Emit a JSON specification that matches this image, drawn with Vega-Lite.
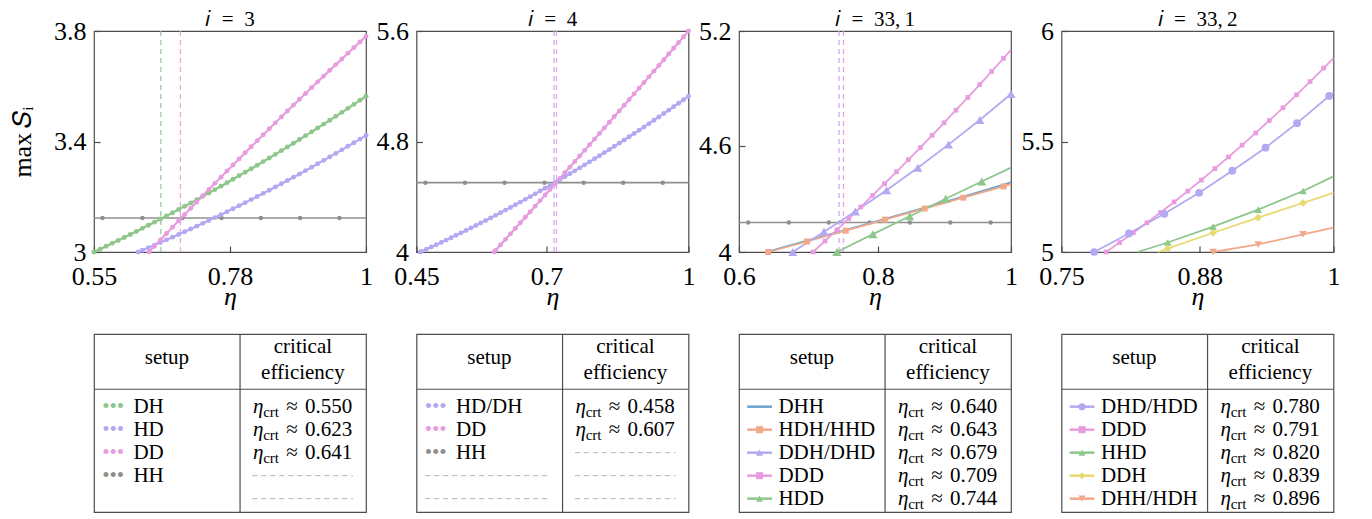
{
  "$schema": "https://vega.github.io/schema/vega-lite/v6.json",
  "padding": {"left": 8, "top": 8, "right": 0, "bottom": 0},
  "background": "white",
  "bounds": "flush",
  "columns": 4,
  "spacing": {"row": 82, "column": 50.5},
  "config": {
    "view": {"stroke": "#4d4d4d", "strokeWidth": 1.2},
    "axis": {"grid": false, "domain": false, "ticks": true, "tickColor": "#4d4d4d", "tickWidth": 1.2, "tickSize": -6, "labelFont": "Liberation Serif", "labelFontSize": 26, "labelColor": "#000", "labelFlush": false, "labelOverlap": false, "titleFont": "Liberation Serif", "titleFontWeight": "normal", "titleColor": "#000"},
    "axisX": {"labelPadding": 17, "titleFontSize": 26, "titleFontStyle": "italic", "titlePadding": -6},
    "axisY": {"labelPadding": 14, "titleFontSize": 26, "titlePadding": 18},
    "title": {"font": "Liberation Serif", "fontSize": 21, "fontWeight": "normal", "color": "#000", "offset": -12},
    "text": {"color": "#000", "font": "Liberation Serif"}
  },
  "datasets": {
    "lines": [
      {"p":1,"s":"HH","x":0.55,"y":3.123},{"p":1,"s":"HH","x":1,"y":3.123},
      {"p":1,"s":"DH","x":0.55,"y":3},{"p":1,"s":"DH","x":0.56,"y":3.0103},{"p":1,"s":"DH","x":0.57,"y":3.0208},{"p":1,"s":"DH","x":0.58,"y":3.0313},{"p":1,"s":"DH","x":0.59,"y":3.042},{"p":1,"s":"DH","x":0.6,"y":3.0527},{"p":1,"s":"DH","x":0.61,"y":3.0636},{"p":1,"s":"DH","x":0.62,"y":3.0745},{"p":1,"s":"DH","x":0.63,"y":3.0856},{"p":1,"s":"DH","x":0.64,"y":3.0967},{"p":1,"s":"DH","x":0.65,"y":3.108},{"p":1,"s":"DH","x":0.66,"y":3.1193},{"p":1,"s":"DH","x":0.67,"y":3.1307},{"p":1,"s":"DH","x":0.68,"y":3.1423},{"p":1,"s":"DH","x":0.69,"y":3.1539},{"p":1,"s":"DH","x":0.7,"y":3.1657},{"p":1,"s":"DH","x":0.71,"y":3.1775},{"p":1,"s":"DH","x":0.72,"y":3.1894},{"p":1,"s":"DH","x":0.73,"y":3.2015},{"p":1,"s":"DH","x":0.74,"y":3.2136},{"p":1,"s":"DH","x":0.75,"y":3.2258},{"p":1,"s":"DH","x":0.76,"y":3.2382},{"p":1,"s":"DH","x":0.77,"y":3.2506},{"p":1,"s":"DH","x":0.78,"y":3.2631},{"p":1,"s":"DH","x":0.79,"y":3.2758},{"p":1,"s":"DH","x":0.8,"y":3.2885},{"p":1,"s":"DH","x":0.81,"y":3.3012},{"p":1,"s":"DH","x":0.82,"y":3.3142},{"p":1,"s":"DH","x":0.83,"y":3.3272},{"p":1,"s":"DH","x":0.84,"y":3.3403},{"p":1,"s":"DH","x":0.85,"y":3.3535},{"p":1,"s":"DH","x":0.86,"y":3.3669},{"p":1,"s":"DH","x":0.87,"y":3.3803},{"p":1,"s":"DH","x":0.88,"y":3.3938},{"p":1,"s":"DH","x":0.89,"y":3.4074},{"p":1,"s":"DH","x":0.9,"y":3.4212},{"p":1,"s":"DH","x":0.91,"y":3.435},{"p":1,"s":"DH","x":0.92,"y":3.4489},{"p":1,"s":"DH","x":0.93,"y":3.4629},{"p":1,"s":"DH","x":0.94,"y":3.477},{"p":1,"s":"DH","x":0.95,"y":3.4913},{"p":1,"s":"DH","x":0.96,"y":3.5056},{"p":1,"s":"DH","x":0.97,"y":3.52},{"p":1,"s":"DH","x":0.98,"y":3.5345},{"p":1,"s":"DH","x":0.99,"y":3.5491},{"p":1,"s":"DH","x":1,"y":3.5638},
      {"p":1,"s":"HD","x":0.623,"y":3},{"p":1,"s":"HD","x":0.63,"y":3.0064},{"p":1,"s":"HD","x":0.64,"y":3.0156},{"p":1,"s":"HD","x":0.65,"y":3.025},{"p":1,"s":"HD","x":0.66,"y":3.0344},{"p":1,"s":"HD","x":0.67,"y":3.044},{"p":1,"s":"HD","x":0.68,"y":3.0537},{"p":1,"s":"HD","x":0.69,"y":3.0635},{"p":1,"s":"HD","x":0.7,"y":3.0734},{"p":1,"s":"HD","x":0.71,"y":3.0834},{"p":1,"s":"HD","x":0.72,"y":3.0935},{"p":1,"s":"HD","x":0.73,"y":3.1037},{"p":1,"s":"HD","x":0.74,"y":3.1141},{"p":1,"s":"HD","x":0.75,"y":3.1245},{"p":1,"s":"HD","x":0.76,"y":3.1351},{"p":1,"s":"HD","x":0.77,"y":3.1458},{"p":1,"s":"HD","x":0.78,"y":3.1566},{"p":1,"s":"HD","x":0.79,"y":3.1675},{"p":1,"s":"HD","x":0.8,"y":3.1785},{"p":1,"s":"HD","x":0.81,"y":3.1896},{"p":1,"s":"HD","x":0.82,"y":3.2008},{"p":1,"s":"HD","x":0.83,"y":3.2122},{"p":1,"s":"HD","x":0.84,"y":3.2236},{"p":1,"s":"HD","x":0.85,"y":3.2352},{"p":1,"s":"HD","x":0.86,"y":3.2469},{"p":1,"s":"HD","x":0.87,"y":3.2587},{"p":1,"s":"HD","x":0.88,"y":3.2706},{"p":1,"s":"HD","x":0.89,"y":3.2826},{"p":1,"s":"HD","x":0.9,"y":3.2947},{"p":1,"s":"HD","x":0.91,"y":3.3069},{"p":1,"s":"HD","x":0.92,"y":3.3193},{"p":1,"s":"HD","x":0.93,"y":3.3317},{"p":1,"s":"HD","x":0.94,"y":3.3443},{"p":1,"s":"HD","x":0.95,"y":3.3569},{"p":1,"s":"HD","x":0.96,"y":3.3697},{"p":1,"s":"HD","x":0.97,"y":3.3826},{"p":1,"s":"HD","x":0.98,"y":3.3956},{"p":1,"s":"HD","x":0.99,"y":3.4087},{"p":1,"s":"HD","x":1,"y":3.4219},
      {"p":1,"s":"DD","x":0.641,"y":3},{"p":1,"s":"DD","x":0.65,"y":3.0209},{"p":1,"s":"DD","x":0.66,"y":3.044},{"p":1,"s":"DD","x":0.67,"y":3.0671},{"p":1,"s":"DD","x":0.68,"y":3.09},{"p":1,"s":"DD","x":0.69,"y":3.1129},{"p":1,"s":"DD","x":0.7,"y":3.1357},{"p":1,"s":"DD","x":0.71,"y":3.1584},{"p":1,"s":"DD","x":0.72,"y":3.1811},{"p":1,"s":"DD","x":0.73,"y":3.2036},{"p":1,"s":"DD","x":0.74,"y":3.2261},{"p":1,"s":"DD","x":0.75,"y":3.2485},{"p":1,"s":"DD","x":0.76,"y":3.2708},{"p":1,"s":"DD","x":0.77,"y":3.293},{"p":1,"s":"DD","x":0.78,"y":3.3151},{"p":1,"s":"DD","x":0.79,"y":3.3371},{"p":1,"s":"DD","x":0.8,"y":3.3591},{"p":1,"s":"DD","x":0.81,"y":3.381},{"p":1,"s":"DD","x":0.82,"y":3.4027},{"p":1,"s":"DD","x":0.83,"y":3.4244},{"p":1,"s":"DD","x":0.84,"y":3.4461},{"p":1,"s":"DD","x":0.85,"y":3.4676},{"p":1,"s":"DD","x":0.86,"y":3.489},{"p":1,"s":"DD","x":0.87,"y":3.5104},{"p":1,"s":"DD","x":0.88,"y":3.5317},{"p":1,"s":"DD","x":0.89,"y":3.5529},{"p":1,"s":"DD","x":0.9,"y":3.574},{"p":1,"s":"DD","x":0.91,"y":3.595},{"p":1,"s":"DD","x":0.92,"y":3.616},{"p":1,"s":"DD","x":0.93,"y":3.6368},{"p":1,"s":"DD","x":0.94,"y":3.6576},{"p":1,"s":"DD","x":0.95,"y":3.6783},{"p":1,"s":"DD","x":0.96,"y":3.6989},{"p":1,"s":"DD","x":0.97,"y":3.7194},{"p":1,"s":"DD","x":0.98,"y":3.7399},{"p":1,"s":"DD","x":0.99,"y":3.7602},{"p":1,"s":"DD","x":1,"y":3.7805},
      {"p":2,"s":"HH","x":0.45,"y":4.502},{"p":2,"s":"HH","x":1,"y":4.502},
      {"p":2,"s":"HD/DH","x":0.458,"y":4},{"p":2,"s":"HD/DH","x":0.46,"y":4.0032},{"p":2,"s":"HD/DH","x":0.47,"y":4.0195},{"p":2,"s":"HD/DH","x":0.48,"y":4.036},{"p":2,"s":"HD/DH","x":0.49,"y":4.0526},{"p":2,"s":"HD/DH","x":0.5,"y":4.0694},{"p":2,"s":"HD/DH","x":0.51,"y":4.0863},{"p":2,"s":"HD/DH","x":0.52,"y":4.1035},{"p":2,"s":"HD/DH","x":0.53,"y":4.1208},{"p":2,"s":"HD/DH","x":0.54,"y":4.1383},{"p":2,"s":"HD/DH","x":0.55,"y":4.1559},{"p":2,"s":"HD/DH","x":0.56,"y":4.1737},{"p":2,"s":"HD/DH","x":0.57,"y":4.1917},{"p":2,"s":"HD/DH","x":0.58,"y":4.2099},{"p":2,"s":"HD/DH","x":0.59,"y":4.2282},{"p":2,"s":"HD/DH","x":0.6,"y":4.2467},{"p":2,"s":"HD/DH","x":0.61,"y":4.2654},{"p":2,"s":"HD/DH","x":0.62,"y":4.2843},{"p":2,"s":"HD/DH","x":0.63,"y":4.3033},{"p":2,"s":"HD/DH","x":0.64,"y":4.3225},{"p":2,"s":"HD/DH","x":0.65,"y":4.3418},{"p":2,"s":"HD/DH","x":0.66,"y":4.3614},{"p":2,"s":"HD/DH","x":0.67,"y":4.3811},{"p":2,"s":"HD/DH","x":0.68,"y":4.4009},{"p":2,"s":"HD/DH","x":0.69,"y":4.421},{"p":2,"s":"HD/DH","x":0.7,"y":4.4412},{"p":2,"s":"HD/DH","x":0.71,"y":4.4616},{"p":2,"s":"HD/DH","x":0.72,"y":4.4822},{"p":2,"s":"HD/DH","x":0.73,"y":4.5029},{"p":2,"s":"HD/DH","x":0.74,"y":4.5238},{"p":2,"s":"HD/DH","x":0.75,"y":4.5449},{"p":2,"s":"HD/DH","x":0.76,"y":4.5661},{"p":2,"s":"HD/DH","x":0.77,"y":4.5876},{"p":2,"s":"HD/DH","x":0.78,"y":4.6092},{"p":2,"s":"HD/DH","x":0.79,"y":4.6309},{"p":2,"s":"HD/DH","x":0.8,"y":4.6528},{"p":2,"s":"HD/DH","x":0.81,"y":4.6749},{"p":2,"s":"HD/DH","x":0.82,"y":4.6972},{"p":2,"s":"HD/DH","x":0.83,"y":4.7197},{"p":2,"s":"HD/DH","x":0.84,"y":4.7423},{"p":2,"s":"HD/DH","x":0.85,"y":4.7651},{"p":2,"s":"HD/DH","x":0.86,"y":4.788},{"p":2,"s":"HD/DH","x":0.87,"y":4.8112},{"p":2,"s":"HD/DH","x":0.88,"y":4.8345},{"p":2,"s":"HD/DH","x":0.89,"y":4.858},{"p":2,"s":"HD/DH","x":0.9,"y":4.8816},{"p":2,"s":"HD/DH","x":0.91,"y":4.9054},{"p":2,"s":"HD/DH","x":0.92,"y":4.9294},{"p":2,"s":"HD/DH","x":0.93,"y":4.9536},{"p":2,"s":"HD/DH","x":0.94,"y":4.9779},{"p":2,"s":"HD/DH","x":0.95,"y":5.0024},{"p":2,"s":"HD/DH","x":0.96,"y":5.0271},{"p":2,"s":"HD/DH","x":0.97,"y":5.0519},{"p":2,"s":"HD/DH","x":0.98,"y":5.077},{"p":2,"s":"HD/DH","x":0.99,"y":5.1022},{"p":2,"s":"HD/DH","x":1,"y":5.1275},
      {"p":2,"s":"DD","x":0.607,"y":4},{"p":2,"s":"DD","x":0.61,"y":4.0119},{"p":2,"s":"DD","x":0.62,"y":4.0518},{"p":2,"s":"DD","x":0.63,"y":4.0916},{"p":2,"s":"DD","x":0.64,"y":4.1315},{"p":2,"s":"DD","x":0.65,"y":4.1715},{"p":2,"s":"DD","x":0.66,"y":4.2115},{"p":2,"s":"DD","x":0.67,"y":4.2516},{"p":2,"s":"DD","x":0.68,"y":4.2917},{"p":2,"s":"DD","x":0.69,"y":4.3318},{"p":2,"s":"DD","x":0.7,"y":4.372},{"p":2,"s":"DD","x":0.71,"y":4.4123},{"p":2,"s":"DD","x":0.72,"y":4.4526},{"p":2,"s":"DD","x":0.73,"y":4.4929},{"p":2,"s":"DD","x":0.74,"y":4.5333},{"p":2,"s":"DD","x":0.75,"y":4.5737},{"p":2,"s":"DD","x":0.76,"y":4.6142},{"p":2,"s":"DD","x":0.77,"y":4.6547},{"p":2,"s":"DD","x":0.78,"y":4.6953},{"p":2,"s":"DD","x":0.79,"y":4.7359},{"p":2,"s":"DD","x":0.8,"y":4.7766},{"p":2,"s":"DD","x":0.81,"y":4.8173},{"p":2,"s":"DD","x":0.82,"y":4.858},{"p":2,"s":"DD","x":0.83,"y":4.8988},{"p":2,"s":"DD","x":0.84,"y":4.9397},{"p":2,"s":"DD","x":0.85,"y":4.9806},{"p":2,"s":"DD","x":0.86,"y":5.0215},{"p":2,"s":"DD","x":0.87,"y":5.0625},{"p":2,"s":"DD","x":0.88,"y":5.1035},{"p":2,"s":"DD","x":0.89,"y":5.1446},{"p":2,"s":"DD","x":0.9,"y":5.1857},{"p":2,"s":"DD","x":0.91,"y":5.2269},{"p":2,"s":"DD","x":0.92,"y":5.2681},{"p":2,"s":"DD","x":0.93,"y":5.3094},{"p":2,"s":"DD","x":0.94,"y":5.3507},{"p":2,"s":"DD","x":0.95,"y":5.3921},{"p":2,"s":"DD","x":0.96,"y":5.4335},{"p":2,"s":"DD","x":0.97,"y":5.4749},{"p":2,"s":"DD","x":0.98,"y":5.5164},{"p":2,"s":"DD","x":0.99,"y":5.558},{"p":2,"s":"DD","x":1,"y":5.5996},
      {"p":3,"s":"HH","x":0.6,"y":4.16},{"p":3,"s":"HH","x":1,"y":4.16},
      {"p":3,"s":"DHH","x":0.64,"y":4},{"p":3,"s":"DHH","x":0.7,"y":4.062},{"p":3,"s":"DHH","x":0.76,"y":4.123},{"p":3,"s":"DHH","x":0.82,"y":4.185},{"p":3,"s":"DHH","x":0.88,"y":4.248},{"p":3,"s":"DHH","x":0.94,"y":4.312},{"p":3,"s":"DHH","x":1,"y":4.378},
      {"p":3,"s":"HDH/HHD","x":0.643,"y":4},{"p":3,"s":"HDH/HHD","x":0.7,"y":4.057},{"p":3,"s":"HDH/HHD","x":0.757,"y":4.116},{"p":3,"s":"HDH/HHD","x":0.8145,"y":4.176},{"p":3,"s":"HDH/HHD","x":0.873,"y":4.236},{"p":3,"s":"HDH/HHD","x":0.93,"y":4.295},{"p":3,"s":"HDH/HHD","x":0.989,"y":4.356},{"p":3,"s":"HDH/HHD","x":1,"y":4.368},
      {"p":3,"s":"DDH/DHD","x":0.679,"y":4},{"p":3,"s":"DDH/DHD","x":0.725,"y":4.11},{"p":3,"s":"DDH/DHD","x":0.771,"y":4.22},{"p":3,"s":"DDH/DHD","x":0.817,"y":4.335},{"p":3,"s":"DDH/DHD","x":0.863,"y":4.458},{"p":3,"s":"DDH/DHD","x":0.908,"y":4.583},{"p":3,"s":"DDH/DHD","x":0.954,"y":4.717},{"p":3,"s":"DDH/DHD","x":1,"y":4.858},
      {"p":3,"s":"DDD","x":0.709,"y":4},{"p":3,"s":"DDD","x":0.7265,"y":4.0598},{"p":3,"s":"DDD","x":0.744,"y":4.1205},{"p":3,"s":"DDD","x":0.7615,"y":4.1819},{"p":3,"s":"DDD","x":0.779,"y":4.2441},{"p":3,"s":"DDD","x":0.7965,"y":4.3071},{"p":3,"s":"DDD","x":0.814,"y":4.3708},{"p":3,"s":"DDD","x":0.8315,"y":4.4354},{"p":3,"s":"DDD","x":0.849,"y":4.5008},{"p":3,"s":"DDD","x":0.8665,"y":4.5669},{"p":3,"s":"DDD","x":0.884,"y":4.6338},{"p":3,"s":"DDD","x":0.9015,"y":4.7015},{"p":3,"s":"DDD","x":0.919,"y":4.77},{"p":3,"s":"DDD","x":0.9365,"y":4.8393},{"p":3,"s":"DDD","x":0.954,"y":4.9094},{"p":3,"s":"DDD","x":0.9715,"y":4.9802},{"p":3,"s":"DDD","x":0.989,"y":5.0519},{"p":3,"s":"DDD","x":1,"y":5.0973},
      {"p":3,"s":"HDD","x":0.744,"y":4},{"p":3,"s":"HDD","x":0.797,"y":4.097},{"p":3,"s":"HDD","x":0.851,"y":4.194},{"p":3,"s":"HDD","x":0.904,"y":4.289},{"p":3,"s":"HDD","x":0.957,"y":4.383},{"p":3,"s":"HDD","x":1,"y":4.458},
      {"p":4,"s":"DDD","x":0.791,"y":5},{"p":4,"s":"DDD","x":0.8035,"y":5.0429},{"p":4,"s":"DDD","x":0.816,"y":5.087},{"p":4,"s":"DDD","x":0.8285,"y":5.1323},{"p":4,"s":"DDD","x":0.841,"y":5.1788},{"p":4,"s":"DDD","x":0.8535,"y":5.2266},{"p":4,"s":"DDD","x":0.866,"y":5.2756},{"p":4,"s":"DDD","x":0.8785,"y":5.3257},{"p":4,"s":"DDD","x":0.891,"y":5.3772},{"p":4,"s":"DDD","x":0.9035,"y":5.4298},{"p":4,"s":"DDD","x":0.916,"y":5.4836},{"p":4,"s":"DDD","x":0.9285,"y":5.5387},{"p":4,"s":"DDD","x":0.941,"y":5.5949},{"p":4,"s":"DDD","x":0.9535,"y":5.6524},{"p":4,"s":"DDD","x":0.966,"y":5.7111},{"p":4,"s":"DDD","x":0.9785,"y":5.7711},{"p":4,"s":"DDD","x":0.991,"y":5.8322},{"p":4,"s":"DDD","x":1,"y":5.877},
      {"p":4,"s":"DHD/HDD","x":0.78,"y":5},{"p":4,"s":"DHD/HDD","x":0.8119,"y":5.084},{"p":4,"s":"DHD/HDD","x":0.8445,"y":5.173},{"p":4,"s":"DHD/HDD","x":0.8765,"y":5.268},{"p":4,"s":"DHD/HDD","x":0.907,"y":5.368},{"p":4,"s":"DHD/HDD","x":0.9375,"y":5.472},{"p":4,"s":"DHD/HDD","x":0.9665,"y":5.583},{"p":4,"s":"DHD/HDD","x":0.996,"y":5.706},{"p":4,"s":"DHD/HDD","x":1,"y":5.721},
      {"p":4,"s":"HHD","x":0.82,"y":5},{"p":4,"s":"HHD","x":0.8476,"y":5.043},{"p":4,"s":"HHD","x":0.8893,"y":5.115},{"p":4,"s":"HHD","x":0.9308,"y":5.192},{"p":4,"s":"HHD","x":0.972,"y":5.276},{"p":4,"s":"HHD","x":1,"y":5.342},
      {"p":4,"s":"DDH","x":0.839,"y":5},{"p":4,"s":"DDH","x":0.8476,"y":5.015},{"p":4,"s":"DDH","x":0.8893,"y":5.087},{"p":4,"s":"DDH","x":0.9308,"y":5.156},{"p":4,"s":"DDH","x":0.972,"y":5.222},{"p":4,"s":"DDH","x":1,"y":5.268},
      {"p":4,"s":"DHH/HDH","x":0.8893,"y":5},{"p":4,"s":"DHH/HDH","x":0.9308,"y":5.034},{"p":4,"s":"DHH/HDH","x":0.972,"y":5.08},{"p":4,"s":"DHH/HDH","x":1,"y":5.11}
    ],
    "marks": [
      {"p":1,"s":"HH","x":0.564,"y":3.123},{"p":1,"s":"HH","x":0.63,"y":3.123},{"p":1,"s":"HH","x":0.696,"y":3.123},{"p":1,"s":"HH","x":0.761,"y":3.123},{"p":1,"s":"HH","x":0.826,"y":3.123},{"p":1,"s":"HH","x":0.891,"y":3.123},{"p":1,"s":"HH","x":0.956,"y":3.123},
      {"p":2,"s":"HH","x":0.468,"y":4.502},{"p":2,"s":"HH","x":0.548,"y":4.502},{"p":2,"s":"HH","x":0.628,"y":4.502},{"p":2,"s":"HH","x":0.709,"y":4.502},{"p":2,"s":"HH","x":0.788,"y":4.502},{"p":2,"s":"HH","x":0.868,"y":4.502},{"p":2,"s":"HH","x":0.948,"y":4.502},
      {"p":3,"s":"HH","x":0.6135,"y":4.16},{"p":3,"s":"HH","x":0.6733,"y":4.16},{"p":3,"s":"HH","x":0.7322,"y":4.16},{"p":3,"s":"HH","x":0.792,"y":4.16},{"p":3,"s":"HH","x":0.8514,"y":4.16},{"p":3,"s":"HH","x":0.9107,"y":4.16},{"p":3,"s":"HH","x":0.97,"y":4.16},
      {"p":3,"s":"HDH/HHD","x":0.643,"y":4},{"p":3,"s":"HDH/HHD","x":0.7,"y":4.057},{"p":3,"s":"HDH/HHD","x":0.757,"y":4.116},{"p":3,"s":"HDH/HHD","x":0.8145,"y":4.176},{"p":3,"s":"HDH/HHD","x":0.873,"y":4.236},{"p":3,"s":"HDH/HHD","x":0.93,"y":4.295},{"p":3,"s":"HDH/HHD","x":0.989,"y":4.356},
      {"p":3,"s":"DDH/DHD","x":0.679,"y":4},{"p":3,"s":"DDH/DHD","x":0.725,"y":4.11},{"p":3,"s":"DDH/DHD","x":0.771,"y":4.22},{"p":3,"s":"DDH/DHD","x":0.817,"y":4.335},{"p":3,"s":"DDH/DHD","x":0.863,"y":4.458},{"p":3,"s":"DDH/DHD","x":0.908,"y":4.583},{"p":3,"s":"DDH/DHD","x":0.954,"y":4.717},{"p":3,"s":"DDH/DHD","x":1,"y":4.858},
      {"p":3,"s":"DDD","x":0.709,"y":4},{"p":3,"s":"DDD","x":0.7265,"y":4.0598},{"p":3,"s":"DDD","x":0.744,"y":4.1205},{"p":3,"s":"DDD","x":0.7615,"y":4.1819},{"p":3,"s":"DDD","x":0.779,"y":4.2441},{"p":3,"s":"DDD","x":0.7965,"y":4.3071},{"p":3,"s":"DDD","x":0.814,"y":4.3708},{"p":3,"s":"DDD","x":0.8315,"y":4.4354},{"p":3,"s":"DDD","x":0.849,"y":4.5008},{"p":3,"s":"DDD","x":0.8665,"y":4.5669},{"p":3,"s":"DDD","x":0.884,"y":4.6338},{"p":3,"s":"DDD","x":0.9015,"y":4.7015},{"p":3,"s":"DDD","x":0.919,"y":4.77},{"p":3,"s":"DDD","x":0.9365,"y":4.8393},{"p":3,"s":"DDD","x":0.954,"y":4.9094},{"p":3,"s":"DDD","x":0.9715,"y":4.9802},{"p":3,"s":"DDD","x":0.989,"y":5.0519},
      {"p":3,"s":"HDD","x":0.744,"y":4},{"p":3,"s":"HDD","x":0.797,"y":4.097},{"p":3,"s":"HDD","x":0.851,"y":4.194},{"p":3,"s":"HDD","x":0.904,"y":4.289},{"p":3,"s":"HDD","x":0.957,"y":4.383},
      {"p":4,"s":"DDD","x":0.791,"y":5},{"p":4,"s":"DDD","x":0.8035,"y":5.0429},{"p":4,"s":"DDD","x":0.816,"y":5.087},{"p":4,"s":"DDD","x":0.8285,"y":5.1323},{"p":4,"s":"DDD","x":0.841,"y":5.1788},{"p":4,"s":"DDD","x":0.8535,"y":5.2266},{"p":4,"s":"DDD","x":0.866,"y":5.2756},{"p":4,"s":"DDD","x":0.8785,"y":5.3257},{"p":4,"s":"DDD","x":0.891,"y":5.3772},{"p":4,"s":"DDD","x":0.9035,"y":5.4298},{"p":4,"s":"DDD","x":0.916,"y":5.4836},{"p":4,"s":"DDD","x":0.9285,"y":5.5387},{"p":4,"s":"DDD","x":0.941,"y":5.5949},{"p":4,"s":"DDD","x":0.9535,"y":5.6524},{"p":4,"s":"DDD","x":0.966,"y":5.7111},{"p":4,"s":"DDD","x":0.9785,"y":5.7711},{"p":4,"s":"DDD","x":0.991,"y":5.8322},
      {"p":4,"s":"DHD/HDD","x":0.78,"y":5},{"p":4,"s":"DHD/HDD","x":0.8119,"y":5.084},{"p":4,"s":"DHD/HDD","x":0.8445,"y":5.173},{"p":4,"s":"DHD/HDD","x":0.8765,"y":5.268},{"p":4,"s":"DHD/HDD","x":0.907,"y":5.368},{"p":4,"s":"DHD/HDD","x":0.9375,"y":5.472},{"p":4,"s":"DHD/HDD","x":0.9665,"y":5.583},{"p":4,"s":"DHD/HDD","x":0.996,"y":5.706},
      {"p":4,"s":"HHD","x":0.8476,"y":5.043},{"p":4,"s":"HHD","x":0.8893,"y":5.115},{"p":4,"s":"HHD","x":0.9308,"y":5.192},{"p":4,"s":"HHD","x":0.972,"y":5.276},
      {"p":4,"s":"DDH","x":0.8476,"y":5.015},{"p":4,"s":"DDH","x":0.8893,"y":5.087},{"p":4,"s":"DDH","x":0.9308,"y":5.156},{"p":4,"s":"DDH","x":0.972,"y":5.222},
      {"p":4,"s":"DHH/HDH","x":0.8893,"y":5},{"p":4,"s":"DHH/HDH","x":0.9308,"y":5.034},{"p":4,"s":"DHH/HDH","x":0.972,"y":5.08}
    ],
    "crit": [
      {"p":1,"s":"DH","x":0.6606},{"p":1,"s":"DD","x":0.693},
      {"p":2,"s":"HD/DH","x":0.728},{"p":2,"s":"DD","x":0.733},
      {"p":3,"s":"DDH/DHD","x":0.7471},{"p":3,"s":"DDD","x":0.7536}
    ],
    "tab": [
      {"p":1,"r":1,"s":"DH","eta":"0.550"},{"p":1,"r":2,"s":"HD","eta":"0.623"},{"p":1,"r":3,"s":"DD","eta":"0.641"},{"p":1,"r":4,"s":"HH","eta":null},
      {"p":2,"r":1,"s":"HD/DH","eta":"0.458"},{"p":2,"r":2,"s":"DD","eta":"0.607"},{"p":2,"r":3,"s":"HH","eta":null},
      {"p":3,"r":1,"s":"DHH","eta":"0.640"},{"p":3,"r":2,"s":"HDH/HHD","eta":"0.643"},{"p":3,"r":3,"s":"DDH/DHD","eta":"0.679"},{"p":3,"r":4,"s":"DDD","eta":"0.709"},{"p":3,"r":5,"s":"HDD","eta":"0.744"},
      {"p":4,"r":1,"s":"DHD/HDD","eta":"0.780"},{"p":4,"r":2,"s":"DDD","eta":"0.791"},{"p":4,"r":3,"s":"HHD","eta":"0.820"},{"p":4,"r":4,"s":"DDH","eta":"0.839"},{"p":4,"r":5,"s":"DHH/HDH","eta":"0.896"}
    ],
    "dash": [
      {"p":1,"r":4,"c":"R"},{"p":1,"r":5,"c":"R"},
      {"p":2,"r":3,"c":"R"},{"p":2,"r":4,"c":"L"},{"p":2,"r":4,"c":"R"},{"p":2,"r":5,"c":"L"},{"p":2,"r":5,"c":"R"}
    ]
  },
  "concat": [
    {
      "width": 272, "height": 221, "title": {"text": "𝑖\u2002=\u20023", "font": "Liberation Serif", "offset": -12},
      "layer": [
        {"data": {"name": "lines"}, "transform": [{"filter": "datum.p == 1 && datum.s == 'HH'"}],
         "mark": {"type": "line", "strokeWidth": 1.6, "color": "#8f8f8f"},
         "encoding": {
           "x": {"field": "x", "type": "quantitative", "scale": {"domain": [0.55, 1], "nice": false, "zero": false}, "axis": {"values": [0.55, 0.775, 1], "labelExpr": "datum.value < 0.6 ? '0.55' : datum.value < 0.9 ? '0.78' : '1'", "title": "η", "labelFont": "Liberation Serif", "titleFont": "Liberation Serif"}},
           "y": {"field": "y", "type": "quantitative", "scale": {"domain": [3, 3.8], "nice": false, "zero": false}, "axis": {"values": [3, 3.4, 3.8], "labelExpr": "datum.value < 3.2 ? '3' : datum.value < 3.6 ? '3.4' : '3.8'", "title": "max\u2009𝑆ᵢ", "labelFont": "Liberation Serif", "titleFont": "Liberation Serif"}}}},
        {"data": {"name": "crit"}, "transform": [{"filter": "datum.p == 1"}],
         "mark": {"type": "rule", "strokeDash": [5, 4], "strokeWidth": 1.3, "opacity": 0.9},
         "encoding": {"x": {"field": "x", "type": "quantitative", "scale": {"domain": [0.55, 1], "nice": false, "zero": false}, "axis": {"values": [0.55, 0.775, 1], "labelExpr": "datum.value < 0.6 ? '0.55' : datum.value < 0.9 ? '0.78' : '1'", "title": "η", "labelFont": "Liberation Serif", "titleFont": "Liberation Serif"}},
                      "color": {"field": "s", "type": "nominal", "legend": null, "scale": {"domain": ["DH","HD","DD","HH","HD/DH","DHH","HDH/HHD","DDH/DHD","DDD","HDD","DHD/HDD","HHD","DDH","DHH/HDH"], "range": ["#8dc78b","#b3a9f2","#e79ce0","#8f8f8f","#b3a9f2","#6aa2c9","#f2a88a","#b3a9f2","#e79ce0","#8dc78b","#b3a9f2","#8dc78b","#e6db72","#f2a88a"]}}}},
        {"data": {"name": "marks"}, "transform": [{"filter": "datum.p == 1 && datum.s == 'HH'"}],
         "mark": {"type": "point", "filled": true, "size": 20, "color": "#8f8f8f", "opacity": 1},
         "encoding": {
           "x": {"field": "x", "type": "quantitative", "scale": {"domain": [0.55, 1], "nice": false, "zero": false}, "axis": {"values": [0.55, 0.775, 1], "labelExpr": "datum.value < 0.6 ? '0.55' : datum.value < 0.9 ? '0.78' : '1'", "title": "η", "labelFont": "Liberation Serif", "titleFont": "Liberation Serif"}},
           "y": {"field": "y", "type": "quantitative", "scale": {"domain": [3, 3.8], "nice": false, "zero": false}, "axis": {"values": [3, 3.4, 3.8], "labelExpr": "datum.value < 3.2 ? '3' : datum.value < 3.6 ? '3.4' : '3.8'", "title": "max\u2009𝑆ᵢ", "labelFont": "Liberation Serif", "titleFont": "Liberation Serif"}}}},
        {"data": {"name": "lines"}, "transform": [{"filter": "datum.p == 1 && datum.s != 'HH'"}],
         "mark": {"type": "line", "strokeWidth": 2.2, "point": {"filled": true, "size": 24, "opacity": 1}},
         "encoding": {
           "x": {"field": "x", "type": "quantitative", "scale": {"domain": [0.55, 1], "nice": false, "zero": false}, "axis": {"values": [0.55, 0.775, 1], "labelExpr": "datum.value < 0.6 ? '0.55' : datum.value < 0.9 ? '0.78' : '1'", "title": "η", "labelFont": "Liberation Serif", "titleFont": "Liberation Serif"}},
           "y": {"field": "y", "type": "quantitative", "scale": {"domain": [3, 3.8], "nice": false, "zero": false}, "axis": {"values": [3, 3.4, 3.8], "labelExpr": "datum.value < 3.2 ? '3' : datum.value < 3.6 ? '3.4' : '3.8'", "title": "max\u2009𝑆ᵢ", "labelFont": "Liberation Serif", "titleFont": "Liberation Serif"}},
           "color": {"field": "s", "type": "nominal", "legend": null, "scale": {"domain": ["DH","HD","DD","HH","HD/DH","DHH","HDH/HHD","DDH/DHD","DDD","HDD","DHD/HDD","HHD","DDH","DHH/HDH"], "range": ["#8dc78b","#b3a9f2","#e79ce0","#8f8f8f","#b3a9f2","#6aa2c9","#f2a88a","#b3a9f2","#e79ce0","#8dc78b","#b3a9f2","#8dc78b","#e6db72","#f2a88a"]}}}}
      ]
    },
    {
      "width": 272, "height": 221, "title": {"text": "𝑖\u2002=\u20024", "font": "Liberation Serif", "offset": -12},
      "layer": [
        {"data": {"name": "lines"}, "transform": [{"filter": "datum.p == 2 && datum.s == 'HH'"}],
         "mark": {"type": "line", "strokeWidth": 1.6, "color": "#8f8f8f"},
         "encoding": {
           "x": {"field": "x", "type": "quantitative", "scale": {"domain": [0.45, 1], "nice": false, "zero": false}, "axis": {"values": [0.45, 0.713, 1], "labelExpr": "datum.value < 0.6 ? '0.45' : datum.value < 0.9 ? '0.7' : '1'", "title": "η", "labelFont": "Liberation Serif", "titleFont": "Liberation Serif"}},
           "y": {"field": "y", "type": "quantitative", "scale": {"domain": [4, 5.6], "nice": false, "zero": false}, "axis": {"values": [4, 4.8, 5.6], "labelExpr": "datum.value < 4.4 ? '4' : datum.value < 5.2 ? '4.8' : '5.6'", "title": null, "labelFont": "Liberation Serif"}}}},
        {"data": {"name": "crit"}, "transform": [{"filter": "datum.p == 2"}],
         "mark": {"type": "rule", "strokeDash": [5, 4], "strokeWidth": 1.3, "opacity": 0.9},
         "encoding": {"x": {"field": "x", "type": "quantitative", "scale": {"domain": [0.45, 1], "nice": false, "zero": false}, "axis": {"values": [0.45, 0.713, 1], "labelExpr": "datum.value < 0.6 ? '0.45' : datum.value < 0.9 ? '0.7' : '1'", "title": "η", "labelFont": "Liberation Serif", "titleFont": "Liberation Serif"}},
                      "color": {"field": "s", "type": "nominal", "legend": null, "scale": {"domain": ["DH","HD","DD","HH","HD/DH","DHH","HDH/HHD","DDH/DHD","DDD","HDD","DHD/HDD","HHD","DDH","DHH/HDH"], "range": ["#8dc78b","#b3a9f2","#e79ce0","#8f8f8f","#b3a9f2","#6aa2c9","#f2a88a","#b3a9f2","#e79ce0","#8dc78b","#b3a9f2","#8dc78b","#e6db72","#f2a88a"]}}}},
        {"data": {"name": "marks"}, "transform": [{"filter": "datum.p == 2 && datum.s == 'HH'"}],
         "mark": {"type": "point", "filled": true, "size": 20, "color": "#8f8f8f", "opacity": 1},
         "encoding": {
           "x": {"field": "x", "type": "quantitative", "scale": {"domain": [0.45, 1], "nice": false, "zero": false}, "axis": {"values": [0.45, 0.713, 1], "labelExpr": "datum.value < 0.6 ? '0.45' : datum.value < 0.9 ? '0.7' : '1'", "title": "η", "labelFont": "Liberation Serif", "titleFont": "Liberation Serif"}},
           "y": {"field": "y", "type": "quantitative", "scale": {"domain": [4, 5.6], "nice": false, "zero": false}, "axis": {"values": [4, 4.8, 5.6], "labelExpr": "datum.value < 4.4 ? '4' : datum.value < 5.2 ? '4.8' : '5.6'", "title": null, "labelFont": "Liberation Serif"}}}},
        {"data": {"name": "lines"}, "transform": [{"filter": "datum.p == 2 && datum.s != 'HH'"}],
         "mark": {"type": "line", "strokeWidth": 2.2, "point": {"filled": true, "size": 24, "opacity": 1}},
         "encoding": {
           "x": {"field": "x", "type": "quantitative", "scale": {"domain": [0.45, 1], "nice": false, "zero": false}, "axis": {"values": [0.45, 0.713, 1], "labelExpr": "datum.value < 0.6 ? '0.45' : datum.value < 0.9 ? '0.7' : '1'", "title": "η", "labelFont": "Liberation Serif", "titleFont": "Liberation Serif"}},
           "y": {"field": "y", "type": "quantitative", "scale": {"domain": [4, 5.6], "nice": false, "zero": false}, "axis": {"values": [4, 4.8, 5.6], "labelExpr": "datum.value < 4.4 ? '4' : datum.value < 5.2 ? '4.8' : '5.6'", "title": null, "labelFont": "Liberation Serif"}},
           "color": {"field": "s", "type": "nominal", "legend": null, "scale": {"domain": ["DH","HD","DD","HH","HD/DH","DHH","HDH/HHD","DDH/DHD","DDD","HDD","DHD/HDD","HHD","DDH","DHH/HDH"], "range": ["#8dc78b","#b3a9f2","#e79ce0","#8f8f8f","#b3a9f2","#6aa2c9","#f2a88a","#b3a9f2","#e79ce0","#8dc78b","#b3a9f2","#8dc78b","#e6db72","#f2a88a"]}}}}
      ]
    },
    {
      "width": 272, "height": 221, "title": {"text": "𝑖\u2002=\u200233,\u20091", "font": "Liberation Serif", "offset": -12},
      "layer": [
        {"data": {"name": "lines"}, "transform": [{"filter": "datum.p == 3 && datum.s == 'HH'"}],
         "mark": {"type": "line", "strokeWidth": 1.6, "color": "#8f8f8f"},
         "encoding": {
           "x": {"field": "x", "type": "quantitative", "scale": {"domain": [0.6, 1], "nice": false, "zero": false}, "axis": {"values": [0.6, 0.8045, 1], "labelExpr": "datum.value < 0.7 ? '0.6' : datum.value < 0.9 ? '0.8' : '1'", "title": "η", "labelFont": "Liberation Serif", "titleFont": "Liberation Serif"}},
           "y": {"field": "y", "type": "quantitative", "scale": {"domain": [4, 5.2], "nice": false, "zero": false}, "axis": {"values": [4, 4.578, 5.2], "labelExpr": "datum.value < 4.3 ? '4' : datum.value < 4.9 ? '4.6' : '5.2'", "title": null, "labelFont": "Liberation Serif"}}}},
        {"data": {"name": "crit"}, "transform": [{"filter": "datum.p == 3"}],
         "mark": {"type": "rule", "strokeDash": [5, 4], "strokeWidth": 1.3, "opacity": 0.9},
         "encoding": {"x": {"field": "x", "type": "quantitative", "scale": {"domain": [0.6, 1], "nice": false, "zero": false}, "axis": {"values": [0.6, 0.8045, 1], "labelExpr": "datum.value < 0.7 ? '0.6' : datum.value < 0.9 ? '0.8' : '1'", "title": "η", "labelFont": "Liberation Serif", "titleFont": "Liberation Serif"}},
                      "color": {"field": "s", "type": "nominal", "legend": null, "scale": {"domain": ["DH","HD","DD","HH","HD/DH","DHH","HDH/HHD","DDH/DHD","DDD","HDD","DHD/HDD","HHD","DDH","DHH/HDH"], "range": ["#8dc78b","#b3a9f2","#e79ce0","#8f8f8f","#b3a9f2","#6aa2c9","#f2a88a","#b3a9f2","#e79ce0","#8dc78b","#b3a9f2","#8dc78b","#e6db72","#f2a88a"]}}}},
        {"data": {"name": "marks"}, "transform": [{"filter": "datum.p == 3 && datum.s == 'HH'"}],
         "mark": {"type": "point", "filled": true, "size": 20, "color": "#8f8f8f", "opacity": 1},
         "encoding": {
           "x": {"field": "x", "type": "quantitative", "scale": {"domain": [0.6, 1], "nice": false, "zero": false}, "axis": {"values": [0.6, 0.8045, 1], "labelExpr": "datum.value < 0.7 ? '0.6' : datum.value < 0.9 ? '0.8' : '1'", "title": "η", "labelFont": "Liberation Serif", "titleFont": "Liberation Serif"}},
           "y": {"field": "y", "type": "quantitative", "scale": {"domain": [4, 5.2], "nice": false, "zero": false}, "axis": {"values": [4, 4.578, 5.2], "labelExpr": "datum.value < 4.3 ? '4' : datum.value < 4.9 ? '4.6' : '5.2'", "title": null, "labelFont": "Liberation Serif"}}}},
        {"data": {"name": "lines"}, "transform": [{"filter": "datum.p == 3 && datum.s != 'HH'"}],
         "mark": {"type": "line", "strokeWidth": 1.8},
         "encoding": {
           "x": {"field": "x", "type": "quantitative", "scale": {"domain": [0.6, 1], "nice": false, "zero": false}, "axis": {"values": [0.6, 0.8045, 1], "labelExpr": "datum.value < 0.7 ? '0.6' : datum.value < 0.9 ? '0.8' : '1'", "title": "η", "labelFont": "Liberation Serif", "titleFont": "Liberation Serif"}},
           "y": {"field": "y", "type": "quantitative", "scale": {"domain": [4, 5.2], "nice": false, "zero": false}, "axis": {"values": [4, 4.578, 5.2], "labelExpr": "datum.value < 4.3 ? '4' : datum.value < 4.9 ? '4.6' : '5.2'", "title": null, "labelFont": "Liberation Serif"}},
           "color": {"field": "s", "type": "nominal", "legend": null, "scale": {"domain": ["DH","HD","DD","HH","HD/DH","DHH","HDH/HHD","DDH/DHD","DDD","HDD","DHD/HDD","HHD","DDH","DHH/HDH"], "range": ["#8dc78b","#b3a9f2","#e79ce0","#8f8f8f","#b3a9f2","#6aa2c9","#f2a88a","#b3a9f2","#e79ce0","#8dc78b","#b3a9f2","#8dc78b","#e6db72","#f2a88a"]}}}},
        {"data": {"name": "marks"}, "transform": [{"filter": "datum.p == 3 && datum.s == 'HDH/HHD'"}],
         "mark": {"type": "point", "filled": true, "size": 36, "opacity": 1},
         "encoding": {
           "x": {"field": "x", "type": "quantitative", "scale": {"domain": [0.6, 1], "nice": false, "zero": false}, "axis": {"values": [0.6, 0.8045, 1], "labelExpr": "datum.value < 0.7 ? '0.6' : datum.value < 0.9 ? '0.8' : '1'", "title": "η", "labelFont": "Liberation Serif", "titleFont": "Liberation Serif"}},
           "y": {"field": "y", "type": "quantitative", "scale": {"domain": [4, 5.2], "nice": false, "zero": false}, "axis": {"values": [4, 4.578, 5.2], "labelExpr": "datum.value < 4.3 ? '4' : datum.value < 4.9 ? '4.6' : '5.2'", "title": null, "labelFont": "Liberation Serif"}},
           "color": {"field": "s", "type": "nominal", "legend": null, "scale": {"domain": ["DH","HD","DD","HH","HD/DH","DHH","HDH/HHD","DDH/DHD","DDD","HDD","DHD/HDD","HHD","DDH","DHH/HDH"], "range": ["#8dc78b","#b3a9f2","#e79ce0","#8f8f8f","#b3a9f2","#6aa2c9","#f2a88a","#b3a9f2","#e79ce0","#8dc78b","#b3a9f2","#8dc78b","#e6db72","#f2a88a"]}},
           "shape": {"field": "s", "type": "nominal", "legend": null, "scale": {"domain": ["DH","HD","DD","HH","HD/DH","DHH","HDH/HHD","DDH/DHD","DDD","HDD","DHD/HDD","HHD","DDH","DHH/HDH"], "range": ["circle","circle","circle","circle","circle","circle","square","triangle-up","square","triangle-up","circle","triangle-up","diamond","triangle-down"]}}}},
        {"data": {"name": "marks"}, "transform": [{"filter": "datum.p == 3 && (datum.s == 'DDH/DHD' || datum.s == 'HDD')"}],
         "mark": {"type": "point", "filled": true, "size": 85, "opacity": 1},
         "encoding": {
           "x": {"field": "x", "type": "quantitative", "scale": {"domain": [0.6, 1], "nice": false, "zero": false}, "axis": {"values": [0.6, 0.8045, 1], "labelExpr": "datum.value < 0.7 ? '0.6' : datum.value < 0.9 ? '0.8' : '1'", "title": "η", "labelFont": "Liberation Serif", "titleFont": "Liberation Serif"}},
           "y": {"field": "y", "type": "quantitative", "scale": {"domain": [4, 5.2], "nice": false, "zero": false}, "axis": {"values": [4, 4.578, 5.2], "labelExpr": "datum.value < 4.3 ? '4' : datum.value < 4.9 ? '4.6' : '5.2'", "title": null, "labelFont": "Liberation Serif"}},
           "color": {"field": "s", "type": "nominal", "legend": null, "scale": {"domain": ["DH","HD","DD","HH","HD/DH","DHH","HDH/HHD","DDH/DHD","DDD","HDD","DHD/HDD","HHD","DDH","DHH/HDH"], "range": ["#8dc78b","#b3a9f2","#e79ce0","#8f8f8f","#b3a9f2","#6aa2c9","#f2a88a","#b3a9f2","#e79ce0","#8dc78b","#b3a9f2","#8dc78b","#e6db72","#f2a88a"]}},
           "shape": {"field": "s", "type": "nominal", "legend": null, "scale": {"domain": ["DH","HD","DD","HH","HD/DH","DHH","HDH/HHD","DDH/DHD","DDD","HDD","DHD/HDD","HHD","DDH","DHH/HDH"], "range": ["circle","circle","circle","circle","circle","circle","square","triangle-up","square","triangle-up","circle","triangle-up","diamond","triangle-down"]}}}},
        {"data": {"name": "marks"}, "transform": [{"filter": "datum.p == 3 && datum.s == 'DDD'"}],
         "mark": {"type": "point", "filled": true, "size": 22, "opacity": 1},
         "encoding": {
           "x": {"field": "x", "type": "quantitative", "scale": {"domain": [0.6, 1], "nice": false, "zero": false}, "axis": {"values": [0.6, 0.8045, 1], "labelExpr": "datum.value < 0.7 ? '0.6' : datum.value < 0.9 ? '0.8' : '1'", "title": "η", "labelFont": "Liberation Serif", "titleFont": "Liberation Serif"}},
           "y": {"field": "y", "type": "quantitative", "scale": {"domain": [4, 5.2], "nice": false, "zero": false}, "axis": {"values": [4, 4.578, 5.2], "labelExpr": "datum.value < 4.3 ? '4' : datum.value < 4.9 ? '4.6' : '5.2'", "title": null, "labelFont": "Liberation Serif"}},
           "color": {"field": "s", "type": "nominal", "legend": null, "scale": {"domain": ["DH","HD","DD","HH","HD/DH","DHH","HDH/HHD","DDH/DHD","DDD","HDD","DHD/HDD","HHD","DDH","DHH/HDH"], "range": ["#8dc78b","#b3a9f2","#e79ce0","#8f8f8f","#b3a9f2","#6aa2c9","#f2a88a","#b3a9f2","#e79ce0","#8dc78b","#b3a9f2","#8dc78b","#e6db72","#f2a88a"]}},
           "shape": {"field": "s", "type": "nominal", "legend": null, "scale": {"domain": ["DH","HD","DD","HH","HD/DH","DHH","HDH/HHD","DDH/DHD","DDD","HDD","DHD/HDD","HHD","DDH","DHH/HDH"], "range": ["circle","circle","circle","circle","circle","circle","square","triangle-up","square","triangle-up","circle","triangle-up","diamond","triangle-down"]}}}}
      ]
    },
    {
      "width": 272, "height": 221, "title": {"text": "𝑖\u2002=\u200233,\u20092", "font": "Liberation Serif", "offset": -12},
      "layer": [
        {"data": {"name": "lines"}, "transform": [{"filter": "datum.p == 4"}],
         "mark": {"type": "line", "strokeWidth": 1.8},
         "encoding": {
           "x": {"field": "x", "type": "quantitative", "scale": {"domain": [0.75, 1], "nice": false, "zero": false}, "axis": {"values": [0.75, 0.877, 1], "labelExpr": "datum.value < 0.8 ? '0.75' : datum.value < 0.95 ? '0.88' : '1'", "title": "η", "labelFont": "Liberation Serif", "titleFont": "Liberation Serif"}},
           "y": {"field": "y", "type": "quantitative", "scale": {"domain": [5, 6], "nice": false, "zero": false}, "axis": {"values": [5, 5.5, 6], "labelExpr": "datum.value < 5.2 ? '5' : datum.value < 5.8 ? '5.5' : '6'", "title": null, "labelFont": "Liberation Serif"}},
           "color": {"field": "s", "type": "nominal", "legend": null, "scale": {"domain": ["DH","HD","DD","HH","HD/DH","DHH","HDH/HHD","DDH/DHD","DDD","HDD","DHD/HDD","HHD","DDH","DHH/HDH"], "range": ["#8dc78b","#b3a9f2","#e79ce0","#8f8f8f","#b3a9f2","#6aa2c9","#f2a88a","#b3a9f2","#e79ce0","#8dc78b","#b3a9f2","#8dc78b","#e6db72","#f2a88a"]}}}},
        {"data": {"name": "marks"}, "transform": [{"filter": "datum.p == 4 && datum.s == 'DDD'"}],
         "mark": {"type": "point", "filled": true, "size": 22, "opacity": 1},
         "encoding": {
           "x": {"field": "x", "type": "quantitative", "scale": {"domain": [0.75, 1], "nice": false, "zero": false}, "axis": {"values": [0.75, 0.877, 1], "labelExpr": "datum.value < 0.8 ? '0.75' : datum.value < 0.95 ? '0.88' : '1'", "title": "η", "labelFont": "Liberation Serif", "titleFont": "Liberation Serif"}},
           "y": {"field": "y", "type": "quantitative", "scale": {"domain": [5, 6], "nice": false, "zero": false}, "axis": {"values": [5, 5.5, 6], "labelExpr": "datum.value < 5.2 ? '5' : datum.value < 5.8 ? '5.5' : '6'", "title": null, "labelFont": "Liberation Serif"}},
           "color": {"field": "s", "type": "nominal", "legend": null, "scale": {"domain": ["DH","HD","DD","HH","HD/DH","DHH","HDH/HHD","DDH/DHD","DDD","HDD","DHD/HDD","HHD","DDH","DHH/HDH"], "range": ["#8dc78b","#b3a9f2","#e79ce0","#8f8f8f","#b3a9f2","#6aa2c9","#f2a88a","#b3a9f2","#e79ce0","#8dc78b","#b3a9f2","#8dc78b","#e6db72","#f2a88a"]}},
           "shape": {"field": "s", "type": "nominal", "legend": null, "scale": {"domain": ["DH","HD","DD","HH","HD/DH","DHH","HDH/HHD","DDH/DHD","DDD","HDD","DHD/HDD","HHD","DDH","DHH/HDH"], "range": ["circle","circle","circle","circle","circle","circle","square","triangle-up","square","triangle-up","circle","triangle-up","diamond","triangle-down"]}}}},
        {"data": {"name": "marks"}, "transform": [{"filter": "datum.p == 4 && datum.s != 'DDD'"}],
         "mark": {"type": "point", "filled": true, "size": 60, "opacity": 1},
         "encoding": {
           "x": {"field": "x", "type": "quantitative", "scale": {"domain": [0.75, 1], "nice": false, "zero": false}, "axis": {"values": [0.75, 0.877, 1], "labelExpr": "datum.value < 0.8 ? '0.75' : datum.value < 0.95 ? '0.88' : '1'", "title": "η", "labelFont": "Liberation Serif", "titleFont": "Liberation Serif"}},
           "y": {"field": "y", "type": "quantitative", "scale": {"domain": [5, 6], "nice": false, "zero": false}, "axis": {"values": [5, 5.5, 6], "labelExpr": "datum.value < 5.2 ? '5' : datum.value < 5.8 ? '5.5' : '6'", "title": null, "labelFont": "Liberation Serif"}},
           "color": {"field": "s", "type": "nominal", "legend": null, "scale": {"domain": ["DH","HD","DD","HH","HD/DH","DHH","HDH/HHD","DDH/DHD","DDD","HDD","DHD/HDD","HHD","DDH","DHH/HDH"], "range": ["#8dc78b","#b3a9f2","#e79ce0","#8f8f8f","#b3a9f2","#6aa2c9","#f2a88a","#b3a9f2","#e79ce0","#8dc78b","#b3a9f2","#8dc78b","#e6db72","#f2a88a"]}},
           "shape": {"field": "s", "type": "nominal", "legend": null, "scale": {"domain": ["DH","HD","DD","HH","HD/DH","DHH","HDH/HHD","DDH/DHD","DDD","HDD","DHD/HDD","HHD","DDH","DHH/HDH"], "range": ["circle","circle","circle","circle","circle","circle","square","triangle-up","square","triangle-up","circle","triangle-up","diamond","triangle-down"]}}}}
      ]
    },
    {
      "width": 272, "height": 178,
      "layer": [
        {"data": {"values": [{}]}, "mark": {"type": "rule", "color": "#4d4d4d", "strokeWidth": 1.2}, "encoding": {"x": {"datum": 53.7, "type": "quantitative", "scale": {"domain": [0, 100], "nice": false, "zero": false}, "axis": null}}},
        {"data": {"values": [{}]}, "mark": {"type": "rule", "color": "#4d4d4d", "strokeWidth": 1.2}, "encoding": {"y": {"datum": 0.243, "type": "quantitative", "scale": {"domain": [-2.16, 5.58], "nice": false, "zero": false, "reverse": true}, "axis": null}}},
        {"data": {"values": [{}]}, "mark": {"type": "text", "text": "setup", "font": "Liberation Serif", "fontSize": 21, "color": "#000", "baseline": "middle"}, "encoding": {"x": {"datum": 26.8, "type": "quantitative", "axis": null}, "y": {"datum": -1.1, "type": "quantitative", "axis": null}}},
        {"data": {"values": [{}]}, "mark": {"type": "text", "text": ["critical", "efficiency"], "font": "Liberation Serif", "lineHeight": 26, "fontSize": 21, "color": "#000", "baseline": "middle"}, "encoding": {"x": {"datum": 76.8, "type": "quantitative", "axis": null}, "y": {"datum": -1.61, "type": "quantitative", "axis": null}}},
        {"data": {"name": "tab"}, "transform": [{"filter": "datum.p == 1"}], "mark": {"type": "text", "text": "•••", "font": "Liberation Serif", "fontSize": 21, "align": "left", "baseline": "middle"},
         "encoding": {"x": {"datum": 3, "type": "quantitative", "axis": null}, "y": {"field": "r", "type": "quantitative", "axis": null},
           "color": {"field": "s", "type": "nominal", "legend": null, "scale": {"domain": ["DH","HD","DD","HH","HD/DH","DHH","HDH/HHD","DDH/DHD","DDD","HDD","DHD/HDD","HHD","DDH","DHH/HDH"], "range": ["#8dc78b","#b3a9f2","#e79ce0","#8f8f8f","#b3a9f2","#6aa2c9","#f2a88a","#b3a9f2","#e79ce0","#8dc78b","#b3a9f2","#8dc78b","#e6db72","#f2a88a"]}}}},
        {"data": {"name": "tab"}, "transform": [{"filter": "datum.p == 1"}], "mark": {"type": "text", "font": "Liberation Serif", "fontSize": 21, "align": "left", "baseline": "middle", "color": "#000"},
         "encoding": {"x": {"datum": 14.5, "type": "quantitative", "axis": null}, "y": {"field": "r", "type": "quantitative", "axis": null}, "text": {"field": "s"}}},
        {"data": {"name": "tab"}, "transform": [{"filter": "datum.p == 1 && isValid(datum.eta)"}], "mark": {"type": "text", "text": "η", "font": "Liberation Serif", "fontSize": 21, "fontStyle": "italic", "align": "left", "baseline": "middle", "color": "#000"},
         "encoding": {"x": {"datum": 58.5, "type": "quantitative", "axis": null}, "y": {"field": "r", "type": "quantitative", "axis": null}}},
        {"data": {"name": "tab"}, "transform": [{"filter": "datum.p == 1 && isValid(datum.eta)"}], "mark": {"type": "text", "text": "crt", "font": "Liberation Serif", "fontSize": 15, "align": "left", "baseline": "middle", "dy": 5, "color": "#000"},
         "encoding": {"x": {"datum": 62.2, "type": "quantitative", "axis": null}, "y": {"field": "r", "type": "quantitative", "axis": null}}},
        {"data": {"name": "tab"}, "transform": [{"filter": "datum.p == 1 && isValid(datum.eta)"}], "mark": {"type": "text", "text": "≈", "font": "Liberation Serif", "fontSize": 21, "align": "left", "baseline": "middle", "color": "#000"},
         "encoding": {"x": {"datum": 70.7, "type": "quantitative", "axis": null}, "y": {"field": "r", "type": "quantitative", "axis": null}}},
        {"data": {"name": "tab"}, "transform": [{"filter": "datum.p == 1 && isValid(datum.eta)"}], "mark": {"type": "text", "font": "Liberation Serif", "fontSize": 21, "align": "left", "baseline": "middle", "color": "#000"},
         "encoding": {"x": {"datum": 77.6, "type": "quantitative", "axis": null}, "y": {"field": "r", "type": "quantitative", "axis": null}, "text": {"field": "eta"}}},
        {"data": {"name": "dash"}, "transform": [{"filter": "datum.p == 1 && datum.c == 'R'"}], "mark": {"type": "rule", "strokeDash": [5, 4], "color": "#b5b5b5", "strokeWidth": 1},
         "encoding": {"x": {"datum": 58.2, "type": "quantitative", "axis": null}, "x2": {"datum": 95.2}, "y": {"field": "r", "type": "quantitative", "axis": null}}}
      ]
    },
    {
      "width": 272, "height": 178,
      "layer": [
        {"data": {"values": [{}]}, "mark": {"type": "rule", "color": "#4d4d4d", "strokeWidth": 1.2}, "encoding": {"x": {"datum": 53.7, "type": "quantitative", "scale": {"domain": [0, 100], "nice": false, "zero": false}, "axis": null}}},
        {"data": {"values": [{}]}, "mark": {"type": "rule", "color": "#4d4d4d", "strokeWidth": 1.2}, "encoding": {"y": {"datum": 0.243, "type": "quantitative", "scale": {"domain": [-2.16, 5.58], "nice": false, "zero": false, "reverse": true}, "axis": null}}},
        {"data": {"values": [{}]}, "mark": {"type": "text", "text": "setup", "font": "Liberation Serif", "fontSize": 21, "color": "#000", "baseline": "middle"}, "encoding": {"x": {"datum": 26.8, "type": "quantitative", "axis": null}, "y": {"datum": -1.1, "type": "quantitative", "axis": null}}},
        {"data": {"values": [{}]}, "mark": {"type": "text", "text": ["critical", "efficiency"], "font": "Liberation Serif", "lineHeight": 26, "fontSize": 21, "color": "#000", "baseline": "middle"}, "encoding": {"x": {"datum": 76.8, "type": "quantitative", "axis": null}, "y": {"datum": -1.61, "type": "quantitative", "axis": null}}},
        {"data": {"name": "tab"}, "transform": [{"filter": "datum.p == 2"}], "mark": {"type": "text", "text": "•••", "font": "Liberation Serif", "fontSize": 21, "align": "left", "baseline": "middle"},
         "encoding": {"x": {"datum": 3, "type": "quantitative", "axis": null}, "y": {"field": "r", "type": "quantitative", "axis": null},
           "color": {"field": "s", "type": "nominal", "legend": null, "scale": {"domain": ["DH","HD","DD","HH","HD/DH","DHH","HDH/HHD","DDH/DHD","DDD","HDD","DHD/HDD","HHD","DDH","DHH/HDH"], "range": ["#8dc78b","#b3a9f2","#e79ce0","#8f8f8f","#b3a9f2","#6aa2c9","#f2a88a","#b3a9f2","#e79ce0","#8dc78b","#b3a9f2","#8dc78b","#e6db72","#f2a88a"]}}}},
        {"data": {"name": "tab"}, "transform": [{"filter": "datum.p == 2"}], "mark": {"type": "text", "font": "Liberation Serif", "fontSize": 21, "align": "left", "baseline": "middle", "color": "#000"},
         "encoding": {"x": {"datum": 14.5, "type": "quantitative", "axis": null}, "y": {"field": "r", "type": "quantitative", "axis": null}, "text": {"field": "s"}}},
        {"data": {"name": "tab"}, "transform": [{"filter": "datum.p == 2 && isValid(datum.eta)"}], "mark": {"type": "text", "text": "η", "font": "Liberation Serif", "fontSize": 21, "fontStyle": "italic", "align": "left", "baseline": "middle", "color": "#000"},
         "encoding": {"x": {"datum": 58.5, "type": "quantitative", "axis": null}, "y": {"field": "r", "type": "quantitative", "axis": null}}},
        {"data": {"name": "tab"}, "transform": [{"filter": "datum.p == 2 && isValid(datum.eta)"}], "mark": {"type": "text", "text": "crt", "font": "Liberation Serif", "fontSize": 15, "align": "left", "baseline": "middle", "dy": 5, "color": "#000"},
         "encoding": {"x": {"datum": 62.2, "type": "quantitative", "axis": null}, "y": {"field": "r", "type": "quantitative", "axis": null}}},
        {"data": {"name": "tab"}, "transform": [{"filter": "datum.p == 2 && isValid(datum.eta)"}], "mark": {"type": "text", "text": "≈", "font": "Liberation Serif", "fontSize": 21, "align": "left", "baseline": "middle", "color": "#000"},
         "encoding": {"x": {"datum": 70.7, "type": "quantitative", "axis": null}, "y": {"field": "r", "type": "quantitative", "axis": null}}},
        {"data": {"name": "tab"}, "transform": [{"filter": "datum.p == 2 && isValid(datum.eta)"}], "mark": {"type": "text", "font": "Liberation Serif", "fontSize": 21, "align": "left", "baseline": "middle", "color": "#000"},
         "encoding": {"x": {"datum": 77.6, "type": "quantitative", "axis": null}, "y": {"field": "r", "type": "quantitative", "axis": null}, "text": {"field": "eta"}}},
        {"data": {"name": "dash"}, "transform": [{"filter": "datum.p == 2 && datum.c == 'R'"}], "mark": {"type": "rule", "strokeDash": [5, 4], "color": "#b5b5b5", "strokeWidth": 1},
         "encoding": {"x": {"datum": 58.2, "type": "quantitative", "axis": null}, "x2": {"datum": 95.2}, "y": {"field": "r", "type": "quantitative", "axis": null}}},
        {"data": {"name": "dash"}, "transform": [{"filter": "datum.p == 2 && datum.c == 'L'"}], "mark": {"type": "rule", "strokeDash": [5, 4], "color": "#b5b5b5", "strokeWidth": 1},
         "encoding": {"x": {"datum": 3.2, "type": "quantitative", "axis": null}, "x2": {"datum": 48.2}, "y": {"field": "r", "type": "quantitative", "axis": null}}}
      ]
    },
    {
      "width": 272, "height": 178,
      "layer": [
        {"data": {"values": [{}]}, "mark": {"type": "rule", "color": "#4d4d4d", "strokeWidth": 1.2}, "encoding": {"x": {"datum": 53.7, "type": "quantitative", "scale": {"domain": [0, 100], "nice": false, "zero": false}, "axis": null}}},
        {"data": {"values": [{}]}, "mark": {"type": "rule", "color": "#4d4d4d", "strokeWidth": 1.2}, "encoding": {"y": {"datum": 0.243, "type": "quantitative", "scale": {"domain": [-2.16, 5.58], "nice": false, "zero": false, "reverse": true}, "axis": null}}},
        {"data": {"values": [{}]}, "mark": {"type": "text", "text": "setup", "font": "Liberation Serif", "fontSize": 21, "color": "#000", "baseline": "middle"}, "encoding": {"x": {"datum": 26.8, "type": "quantitative", "axis": null}, "y": {"datum": -1.1, "type": "quantitative", "axis": null}}},
        {"data": {"values": [{}]}, "mark": {"type": "text", "text": ["critical", "efficiency"], "font": "Liberation Serif", "lineHeight": 26, "fontSize": 21, "color": "#000", "baseline": "middle"}, "encoding": {"x": {"datum": 76.8, "type": "quantitative", "axis": null}, "y": {"datum": -1.61, "type": "quantitative", "axis": null}}},
        {"data": {"name": "tab"}, "transform": [{"filter": "datum.p == 3"}], "mark": {"type": "rule", "strokeWidth": 2.5},
         "encoding": {"x": {"datum": 3, "type": "quantitative", "axis": null}, "x2": {"datum": 12.1}, "y": {"field": "r", "type": "quantitative", "axis": null},
           "color": {"field": "s", "type": "nominal", "legend": null, "scale": {"domain": ["DH","HD","DD","HH","HD/DH","DHH","HDH/HHD","DDH/DHD","DDD","HDD","DHD/HDD","HHD","DDH","DHH/HDH"], "range": ["#8dc78b","#b3a9f2","#e79ce0","#8f8f8f","#b3a9f2","#6aa2c9","#f2a88a","#b3a9f2","#e79ce0","#8dc78b","#b3a9f2","#8dc78b","#e6db72","#f2a88a"]}}}},
        {"data": {"name": "tab"}, "transform": [{"filter": "datum.p == 3 && datum.s != 'DHH'"}], "mark": {"type": "point", "filled": true, "size": 50, "opacity": 1},
         "encoding": {"x": {"datum": 7.55, "type": "quantitative", "axis": null}, "y": {"field": "r", "type": "quantitative", "axis": null},
           "color": {"field": "s", "type": "nominal", "legend": null, "scale": {"domain": ["DH","HD","DD","HH","HD/DH","DHH","HDH/HHD","DDH/DHD","DDD","HDD","DHD/HDD","HHD","DDH","DHH/HDH"], "range": ["#8dc78b","#b3a9f2","#e79ce0","#8f8f8f","#b3a9f2","#6aa2c9","#f2a88a","#b3a9f2","#e79ce0","#8dc78b","#b3a9f2","#8dc78b","#e6db72","#f2a88a"]}},
           "shape": {"field": "s", "type": "nominal", "legend": null, "scale": {"domain": ["DH","HD","DD","HH","HD/DH","DHH","HDH/HHD","DDH/DHD","DDD","HDD","DHD/HDD","HHD","DDH","DHH/HDH"], "range": ["circle","circle","circle","circle","circle","circle","square","triangle-up","square","triangle-up","circle","triangle-up","diamond","triangle-down"]}}}},
        {"data": {"name": "tab"}, "transform": [{"filter": "datum.p == 3"}], "mark": {"type": "text", "font": "Liberation Serif", "fontSize": 21, "align": "left", "baseline": "middle", "color": "#000"},
         "encoding": {"x": {"datum": 14.5, "type": "quantitative", "axis": null}, "y": {"field": "r", "type": "quantitative", "axis": null}, "text": {"field": "s"}}},
        {"data": {"name": "tab"}, "transform": [{"filter": "datum.p == 3 && isValid(datum.eta)"}], "mark": {"type": "text", "text": "η", "font": "Liberation Serif", "fontSize": 21, "fontStyle": "italic", "align": "left", "baseline": "middle", "color": "#000"},
         "encoding": {"x": {"datum": 58.5, "type": "quantitative", "axis": null}, "y": {"field": "r", "type": "quantitative", "axis": null}}},
        {"data": {"name": "tab"}, "transform": [{"filter": "datum.p == 3 && isValid(datum.eta)"}], "mark": {"type": "text", "text": "crt", "font": "Liberation Serif", "fontSize": 15, "align": "left", "baseline": "middle", "dy": 5, "color": "#000"},
         "encoding": {"x": {"datum": 62.2, "type": "quantitative", "axis": null}, "y": {"field": "r", "type": "quantitative", "axis": null}}},
        {"data": {"name": "tab"}, "transform": [{"filter": "datum.p == 3 && isValid(datum.eta)"}], "mark": {"type": "text", "text": "≈", "font": "Liberation Serif", "fontSize": 21, "align": "left", "baseline": "middle", "color": "#000"},
         "encoding": {"x": {"datum": 70.7, "type": "quantitative", "axis": null}, "y": {"field": "r", "type": "quantitative", "axis": null}}},
        {"data": {"name": "tab"}, "transform": [{"filter": "datum.p == 3 && isValid(datum.eta)"}], "mark": {"type": "text", "font": "Liberation Serif", "fontSize": 21, "align": "left", "baseline": "middle", "color": "#000"},
         "encoding": {"x": {"datum": 77.6, "type": "quantitative", "axis": null}, "y": {"field": "r", "type": "quantitative", "axis": null}, "text": {"field": "eta"}}}
      ]
    },
    {
      "width": 272, "height": 178,
      "layer": [
        {"data": {"values": [{}]}, "mark": {"type": "rule", "color": "#4d4d4d", "strokeWidth": 1.2}, "encoding": {"x": {"datum": 53.7, "type": "quantitative", "scale": {"domain": [0, 100], "nice": false, "zero": false}, "axis": null}}},
        {"data": {"values": [{}]}, "mark": {"type": "rule", "color": "#4d4d4d", "strokeWidth": 1.2}, "encoding": {"y": {"datum": 0.243, "type": "quantitative", "scale": {"domain": [-2.16, 5.58], "nice": false, "zero": false, "reverse": true}, "axis": null}}},
        {"data": {"values": [{}]}, "mark": {"type": "text", "text": "setup", "font": "Liberation Serif", "fontSize": 21, "color": "#000", "baseline": "middle"}, "encoding": {"x": {"datum": 26.8, "type": "quantitative", "axis": null}, "y": {"datum": -1.1, "type": "quantitative", "axis": null}}},
        {"data": {"values": [{}]}, "mark": {"type": "text", "text": ["critical", "efficiency"], "font": "Liberation Serif", "lineHeight": 26, "fontSize": 21, "color": "#000", "baseline": "middle"}, "encoding": {"x": {"datum": 76.8, "type": "quantitative", "axis": null}, "y": {"datum": -1.61, "type": "quantitative", "axis": null}}},
        {"data": {"name": "tab"}, "transform": [{"filter": "datum.p == 4"}], "mark": {"type": "rule", "strokeWidth": 2.5},
         "encoding": {"x": {"datum": 3, "type": "quantitative", "axis": null}, "x2": {"datum": 12.1}, "y": {"field": "r", "type": "quantitative", "axis": null},
           "color": {"field": "s", "type": "nominal", "legend": null, "scale": {"domain": ["DH","HD","DD","HH","HD/DH","DHH","HDH/HHD","DDH/DHD","DDD","HDD","DHD/HDD","HHD","DDH","DHH/HDH"], "range": ["#8dc78b","#b3a9f2","#e79ce0","#8f8f8f","#b3a9f2","#6aa2c9","#f2a88a","#b3a9f2","#e79ce0","#8dc78b","#b3a9f2","#8dc78b","#e6db72","#f2a88a"]}}}},
        {"data": {"name": "tab"}, "transform": [{"filter": "datum.p == 4"}], "mark": {"type": "point", "filled": true, "size": 50, "opacity": 1},
         "encoding": {"x": {"datum": 7.55, "type": "quantitative", "axis": null}, "y": {"field": "r", "type": "quantitative", "axis": null},
           "color": {"field": "s", "type": "nominal", "legend": null, "scale": {"domain": ["DH","HD","DD","HH","HD/DH","DHH","HDH/HHD","DDH/DHD","DDD","HDD","DHD/HDD","HHD","DDH","DHH/HDH"], "range": ["#8dc78b","#b3a9f2","#e79ce0","#8f8f8f","#b3a9f2","#6aa2c9","#f2a88a","#b3a9f2","#e79ce0","#8dc78b","#b3a9f2","#8dc78b","#e6db72","#f2a88a"]}},
           "shape": {"field": "s", "type": "nominal", "legend": null, "scale": {"domain": ["DH","HD","DD","HH","HD/DH","DHH","HDH/HHD","DDH/DHD","DDD","HDD","DHD/HDD","HHD","DDH","DHH/HDH"], "range": ["circle","circle","circle","circle","circle","circle","square","triangle-up","square","triangle-up","circle","triangle-up","diamond","triangle-down"]}}}},
        {"data": {"name": "tab"}, "transform": [{"filter": "datum.p == 4"}], "mark": {"type": "text", "font": "Liberation Serif", "fontSize": 21, "align": "left", "baseline": "middle", "color": "#000"},
         "encoding": {"x": {"datum": 14.5, "type": "quantitative", "axis": null}, "y": {"field": "r", "type": "quantitative", "axis": null}, "text": {"field": "s"}}},
        {"data": {"name": "tab"}, "transform": [{"filter": "datum.p == 4 && isValid(datum.eta)"}], "mark": {"type": "text", "text": "η", "font": "Liberation Serif", "fontSize": 21, "fontStyle": "italic", "align": "left", "baseline": "middle", "color": "#000"},
         "encoding": {"x": {"datum": 58.5, "type": "quantitative", "axis": null}, "y": {"field": "r", "type": "quantitative", "axis": null}}},
        {"data": {"name": "tab"}, "transform": [{"filter": "datum.p == 4 && isValid(datum.eta)"}], "mark": {"type": "text", "text": "crt", "font": "Liberation Serif", "fontSize": 15, "align": "left", "baseline": "middle", "dy": 5, "color": "#000"},
         "encoding": {"x": {"datum": 62.2, "type": "quantitative", "axis": null}, "y": {"field": "r", "type": "quantitative", "axis": null}}},
        {"data": {"name": "tab"}, "transform": [{"filter": "datum.p == 4 && isValid(datum.eta)"}], "mark": {"type": "text", "text": "≈", "font": "Liberation Serif", "fontSize": 21, "align": "left", "baseline": "middle", "color": "#000"},
         "encoding": {"x": {"datum": 70.7, "type": "quantitative", "axis": null}, "y": {"field": "r", "type": "quantitative", "axis": null}}},
        {"data": {"name": "tab"}, "transform": [{"filter": "datum.p == 4 && isValid(datum.eta)"}], "mark": {"type": "text", "font": "Liberation Serif", "fontSize": 21, "align": "left", "baseline": "middle", "color": "#000"},
         "encoding": {"x": {"datum": 77.6, "type": "quantitative", "axis": null}, "y": {"field": "r", "type": "quantitative", "axis": null}, "text": {"field": "eta"}}}
      ]
    }
  ]
}
